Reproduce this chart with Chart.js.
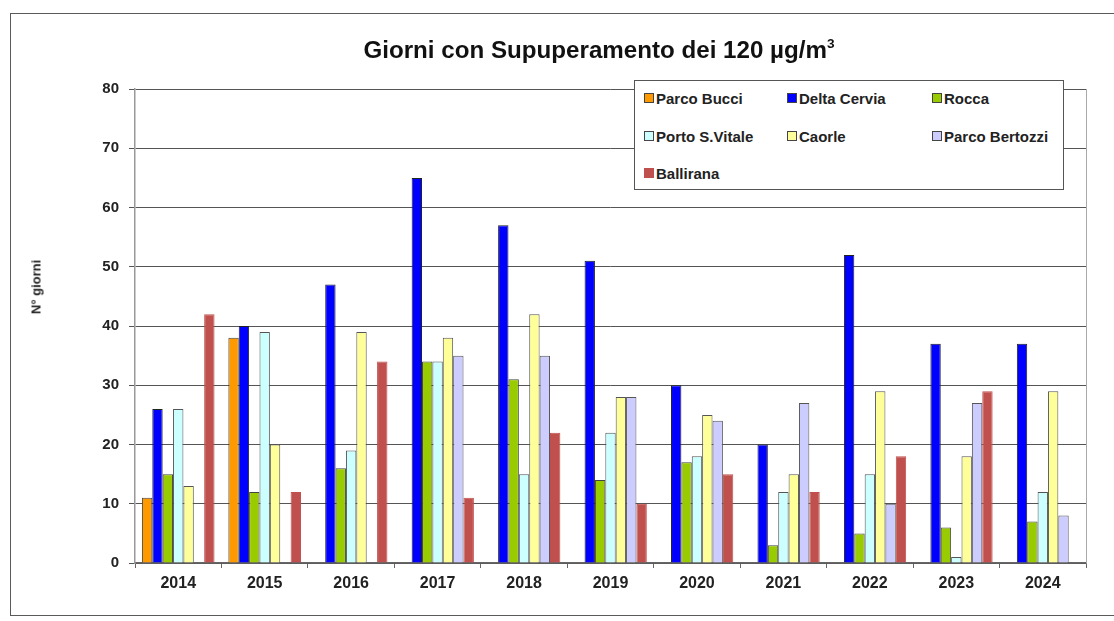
<!DOCTYPE html>
<html>
<head>
<meta charset="utf-8">
<script src="https://cdn.jsdelivr.net/npm/chart.js@4/dist/chart.umd.min.js"></script>
<style>
  html, body { margin:0; padding:0; background:#fff; }
  body { width:1114px; height:621px; position:relative; overflow:hidden; font-family:"Liberation Sans", Arial, sans-serif; }
  #frame { position:absolute; left:10px; top:13px; width:1130px; height:603px; border:1.5px solid #5a5a5a; box-sizing:border-box; }
  #c { position:absolute; left:0; top:0; }
  #title { position:absolute; left:0; width:1198px; top:36px; text-align:center; font-weight:bold; font-size:23px; color:#111; transform:scaleX(1.05); transform-origin:599px 0; }
  #title sup { font-size:13px; vertical-align:10px; }
  #ylab { position:absolute; left:36px; top:287px; transform:translate(-50%,-50%) rotate(-90deg); font-weight:bold; font-size:13px; color:#222; white-space:nowrap; }
  #legend { position:absolute; left:634px; top:80px; width:430px; height:110px; border:1.5px solid #555; background:#fff; box-sizing:border-box; }
  .li { position:absolute; font-weight:bold; font-size:15px; color:#222; white-space:nowrap; line-height:16px; }
  .sw { display:inline-block; width:8px; height:8px; border:1px solid #444; margin-right:2px; vertical-align:1px; }
</style>
</head>
<body>
<div id="frame"></div>
<canvas id="c" width="1114" height="621"></canvas>
<div id="title">Giorni con Supuperamento dei 120 µg/m<sup>3</sup></div>
<div id="ylab">N° giorni</div>
<div id="legend"></div>
<script>
const years = ["2014","2015","2016","2017","2018","2019","2020","2021","2022","2023","2024"];
const seriesNames = ["Parco Bucci","Delta Cervia","Rocca","Porto S.Vitale","Caorle","Parco Bertozzi","Ballirana"];
const parcoBucci    = [11, 38, null, null, null, null, null, null, null, null, null];
const deltaCervia   = [26, 40, 47, 65, 57, 51, 30, 20, 52, 37, 37];
const rocca         = [15, 12, 16, 34, 31, 14, 17, 3, 5, 6, 7];
const portoSVitale  = [26, 39, 19, 34, 15, 22, 18, 12, 15, 1, 12];
const caorle        = [13, 20, 39, 38, 42, 28, 25, 15, 29, 18, 29];
const parcoBertozzi = [null, null, null, 35, 35, 28, 24, 27, 10, 27, 8];
const ballirana     = [42, 12, 34, 11, 22, 10, 15, 12, 18, 29, null];
const yTicks = [0, 10, 20, 30, 40, 50, 60, 70, 80];

const colors = ["#FF9900", "#0000FF", "#99CC00", "#CCFFFF", "#FFFF99", "#CCCCFF", "#C0504D"];
const edge = ["#444", "#222", "#444", "#555", "#555", "#555", "#C0504D"];
const values = [parcoBucci, deltaCervia, rocca, portoSVitale, caorle, parcoBertozzi, ballirana];

const datasets = seriesNames.map((n, i) => ({
  label: n,
  data: values[i],
  backgroundColor: colors[i],
  borderColor: edge[i],
  borderWidth: 1,
  categoryPercentage: 0.84,
  barPercentage: 1.0
}));

// legend (HTML)
const legPos = [[9,10],[152,10],[297,10],[9,48],[152,48],[297,48],[9,85]];
const leg = document.getElementById('legend');
seriesNames.forEach((n, i) => {
  const d = document.createElement('div');
  d.className = 'li';
  d.style.left = legPos[i][0] + 'px';
  d.style.top = legPos[i][1] + 'px';
  const s = document.createElement('span');
  s.className = 'sw';
  s.style.background = colors[i];
  if (i === 6) s.style.borderColor = colors[i];
  d.appendChild(s);
  d.appendChild(document.createTextNode(n));
  leg.appendChild(d);
});

const rightLine = {
  id: 'rightLine',
  afterDraw(chart) {
    const ctx = chart.ctx, a = chart.chartArea;
    ctx.save();
    ctx.strokeStyle = '#aaa';
    ctx.lineWidth = 1;
    ctx.beginPath();
    ctx.moveTo(Math.round(a.right) + 0.5, a.top);
    ctx.lineTo(Math.round(a.right) + 0.5, a.bottom);
    ctx.stroke();
    ctx.restore();
  }
};

new Chart(document.getElementById('c'), {
  type: 'bar',
  data: { labels: years, datasets },
  options: {
    responsive: false,
    animation: false,
    layout: { padding: { top: 89, left: 90, right: 28, bottom: 18 } },
    plugins: { legend: { display: false }, title: { display: false }, tooltip: { enabled: false } },
    scales: {
      x: {
        grid: { display: true, drawOnChartArea: false, offset: true, tickLength: 5, color: '#666' },
        border: { color: '#666', width: 1.5 },
        ticks: { color: '#222', font: { family: '"Liberation Sans", Arial', size: 16, weight: 'bold' }, padding: 6 },
        afterFit(s) { s.height = 40; }
      },
      y: {
        min: 0, max: 80,
        afterBuildTicks(s) { s.ticks = yTicks.map(v => ({ value: v })); },
        grid: { color: '#555', lineWidth: 1, tickLength: 6 },
        border: { color: '#999', width: 1.5 },
        ticks: { color: '#222', font: { family: '"Liberation Sans", Arial', size: 15, weight: 'bold' }, padding: 10 },
        afterFit(s) { s.width = 45; }
      }
    }
  },
  plugins: [rightLine]
});
</script>
</body>
</html>
